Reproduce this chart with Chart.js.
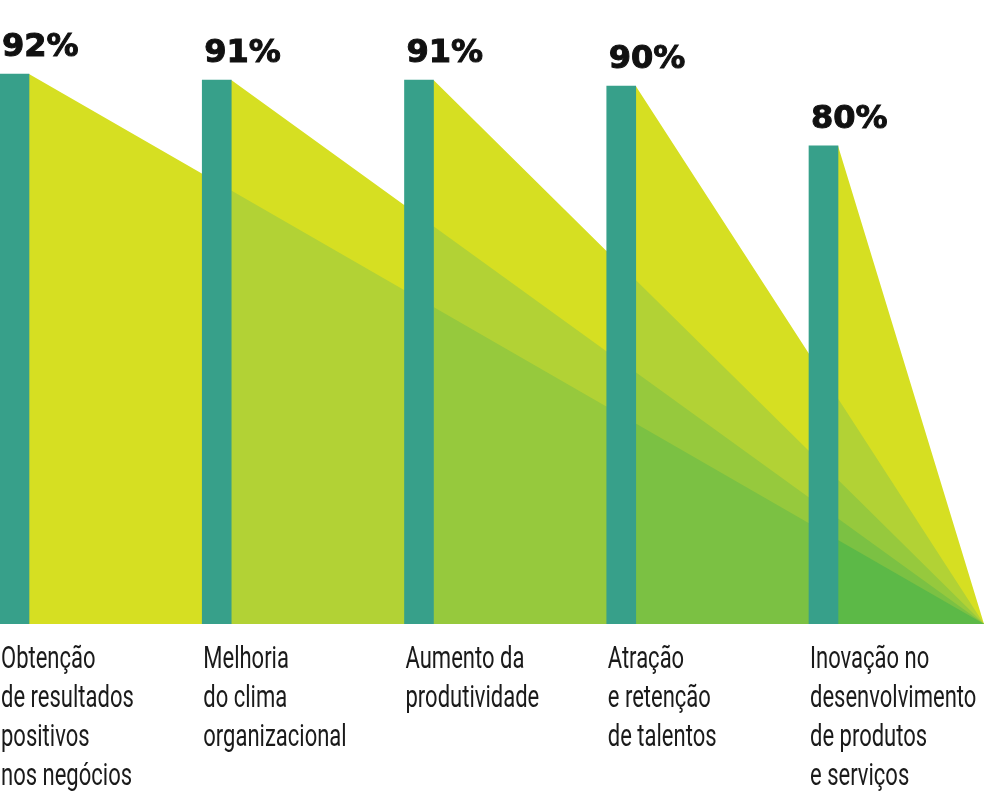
<!DOCTYPE html>
<html lang="pt">
<head>
<meta charset="utf-8">
<title>Benefícios percebidos</title>
<script src="https://cdn.jsdelivr.net/npm/chart.js@4.4.1/dist/chart.umd.min.js"></script>
<style>
  html, body { margin: 0; padding: 0; background: #fff; }
  #wrap { width: 984px; height: 807px; position: relative; }
</style>
</head>
<body>
<div id="wrap"><canvas id="chart"></canvas></div>
<script>
const categories = [
  ["Obtenção", "de resultados", "positivos", "nos negócios"],
  ["Melhoria", "do clima", "organizacional"],
  ["Aumento da", "produtividade"],
  ["Atração", "e retenção", "de talentos"],
  ["Inovação no", "desenvolvimento", "de produtos", "e serviços"],
];
const values = [92, 91, 91, 90, 80];
const valueLabels = ["92%", "91%", "91%", "90%", "80%"];

const barColor = "#37a08a";
// one shade per number of overlapping wedges
const layerColors = ["#d6df22", "#b2d235", "#96c93d", "#7bc143", "#5cb947"];

// layout in x-axis units (1 unit = distance between bars)
const BAR_HALF = 0.0717;
const X_MIN = -BAR_HALF;
const X_END = 4.7936;

// height of the wedge that leaves bar t, at position x
function wedgeHeight(t, x) {
  const start = t + BAR_HALF;
  return (values[t] * (X_END - x)) / (X_END - start);
}

// layer k = area covered by at least k wedges
// later wedges are always on top, so between bar j and j+1 the k-th one is wedge j-k+1
function layerPoints(k) {
  const pts = [];
  for (let j = k - 1; j < values.length; j++) {
    const t = j - k + 1;
    const xa = j + BAR_HALF;
    const xb = j < values.length - 1 ? j + 1 - BAR_HALF : X_END;
    pts.push({ x: xa, y: wedgeHeight(t, xa) });
    pts.push({ x: xb, y: wedgeHeight(t, xb) });
  }
  return pts;
}

const layerDatasets = layerColors.map((color, i) => ({
  type: "line",
  data: layerPoints(i + 1),
  backgroundColor: color,
  borderWidth: 0,
  pointRadius: 0,
  tension: 0,
  fill: "origin",
  order: layerColors.length - i,
}));

const valueLabelPlugin = {
  id: "valueLabels",
  afterDatasetsDraw(chart) {
    const meta = chart.getDatasetMeta(0);
    const ctx = chart.ctx;
    ctx.save();
    ctx.font = 'bold 32px "DejaVu Sans"';
    ctx.fillStyle = "#111111";
    ctx.strokeStyle = "#111111";
    ctx.lineWidth = 1;
    ctx.textAlign = "left";
    ctx.textBaseline = "alphabetic";
    meta.data.forEach((bar, i) => {
      const x = bar.x - bar.width / 2 + 2;
      const y = bar.y - 18;
      ctx.fillText(valueLabels[i], x, y);
      ctx.strokeText(valueLabels[i], x, y);
    });
    ctx.restore();
  },
};

// category names under each bar, left aligned, in a condensed look
const categoryLabelPlugin = {
  id: "categoryLabels",
  afterDraw(chart) {
    const xScale = chart.scales.x;
    const ctx = chart.ctx;
    ctx.save();
    ctx.font = "31px Roboto";
    ctx.fillStyle = "#1a1a1a";
    ctx.textAlign = "left";
    ctx.textBaseline = "alphabetic";
    categories.forEach((lines, i) => {
      const left = xScale.getPixelForValue(i - BAR_HALF);
      lines.forEach((line, n) => {
        ctx.save();
        ctx.translate(left + 1, chart.chartArea.bottom + 44 + n * 39);
        ctx.scale(0.71, 1);
        ctx.fillText(line, 0, 0);
        ctx.restore();
      });
    });
    ctx.restore();
  },
};

new Chart(document.getElementById("chart"), {
  type: "bar",
  data: {
    datasets: [
      {
        type: "bar",
        data: values.map((v, i) => ({ x: i, y: v })),
        backgroundColor: barColor,
        barThickness: 29,
        order: 0,
      },
      ...layerDatasets,
    ],
  },
  options: {
    responsive: true,
    maintainAspectRatio: false,
    animation: false,
    layout: { padding: { left: 0, right: 0, top: 0, bottom: 183 } },
    plugins: {
      legend: { display: false },
      tooltip: { enabled: false },
    },
    scales: {
      x: {
        type: "linear",
        display: false,
        min: X_MIN,
        max: X_END,
        offset: false,
      },
      y: {
        display: false,
        min: 0,
        max: 104.4,
      },
    },
  },
  plugins: [valueLabelPlugin, categoryLabelPlugin],
});
</script>
</body>
</html>
